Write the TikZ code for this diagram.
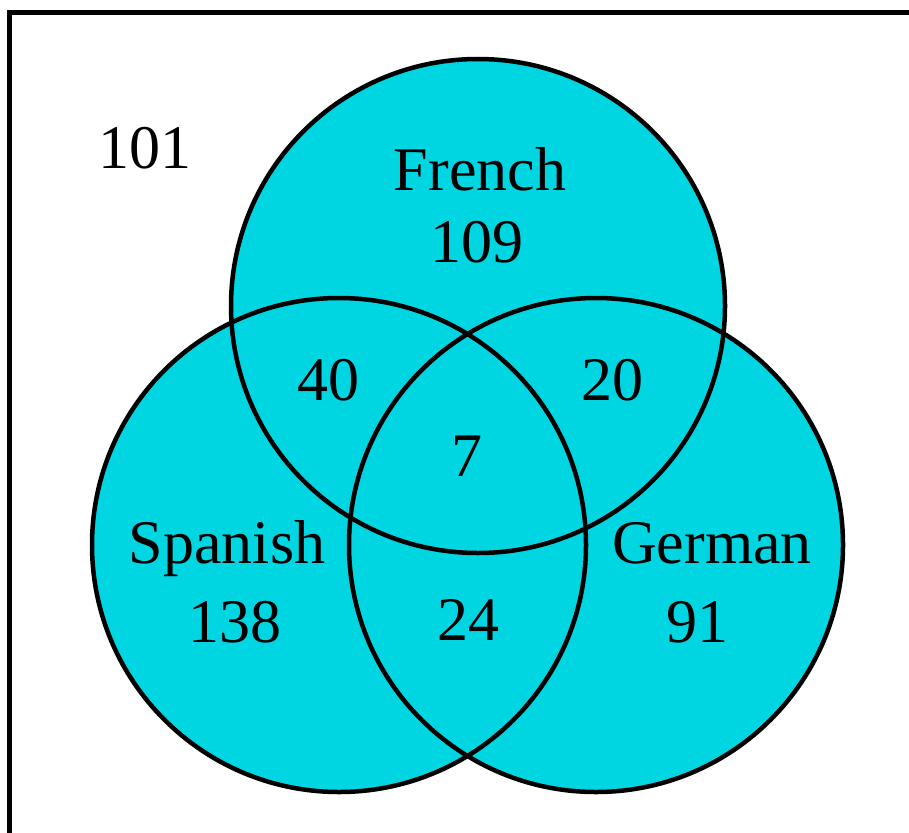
\documentclass[tikz,border=0pt]{standalone}
\usepackage{fontspec}
\setmainfont{Liberation Serif}
\definecolor{venn}{RGB}{0,214,226}
\begin{document}
\begin{tikzpicture}[x=1pt,y=-1pt,
  ring/.style={circle,draw=black,line width=4.5pt,minimum size=494pt,inner sep=0pt},
  lbl/.style={anchor=base,inner sep=0pt,font=\fontsize{62}{74}\selectfont}]
\useasboundingbox (0,0) rectangle (909,832);
\clip (0,0) rectangle (909,832);
\fill[white] (0,0) rectangle (909,832);
\draw[line width=5pt] (9.5,12.5) rectangle (980,900);
\coordinate (cF) at (478,306);
\coordinate (cS) at (339,545);
\coordinate (cG) at (596,545);
\fill[venn] (cF) circle[radius=247pt] (cS) circle[radius=247pt] (cG) circle[radius=247pt];
\node[ring] (F) at (cF) {};
\node[ring] (S) at (cS) {};
\node[ring] (G) at (cG) {};
\node[lbl] (out) at (145,168) {101};
\node[lbl] (fr) at (480,190) {French};
\node[lbl] (frn) at (477,262) {109};
\node[lbl] (sp) at (227,563) {Spanish};
\node[lbl] (spn) at (235,642) {138};
\node[lbl] (ge) at (712,563) {German};
\node[lbl] (gen) at (697,642) {91};
\node[lbl] (fs) at (328,400) {40};
\node[lbl] (fg) at (612,400) {20};
\node[lbl] (all) at (467,476) {7};
\node[lbl] (sg) at (468,640) {24};
\end{tikzpicture}
\end{document}
